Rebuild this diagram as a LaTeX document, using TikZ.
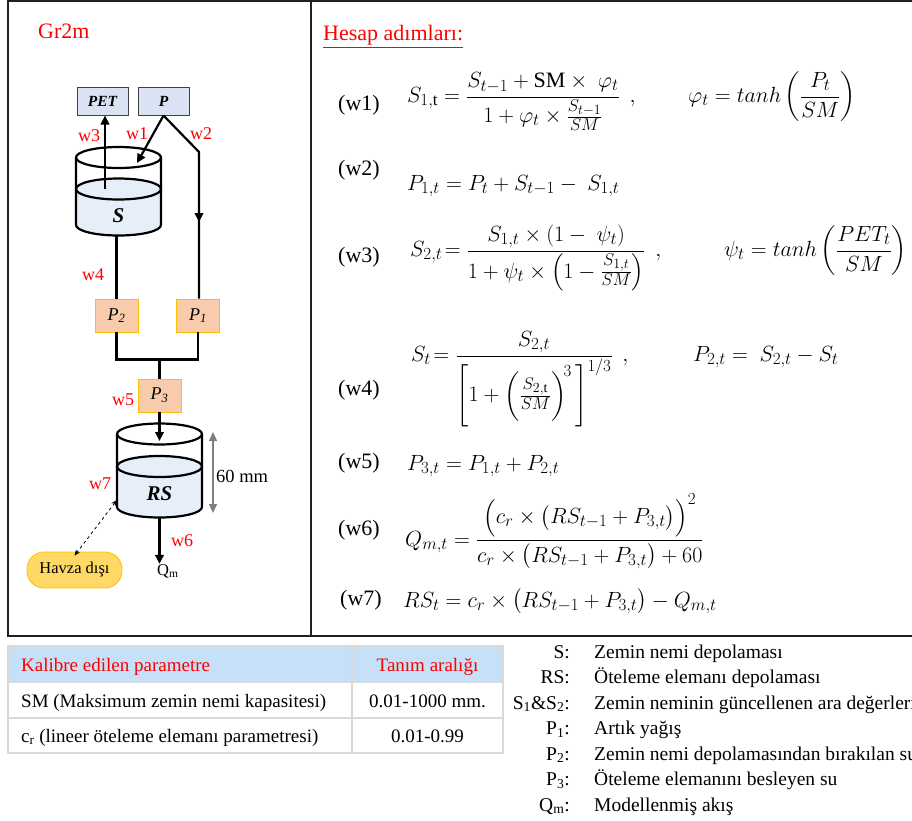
\documentclass[tikz,border=0pt]{standalone}
\usepackage{fix-cm}
\usepackage{amsmath}
\usepackage{fontspec}
\setmainfont{Liberation Serif}
\usetikzlibrary{arrows.meta}
\DeclareMathSizes{22}{22}{17}{14}
\definecolor{boxblue}{HTML}{DAE3F3}
\definecolor{boxborder}{HTML}{404040}
\definecolor{water}{HTML}{E6EEF9}
\definecolor{peach}{HTML}{F8CBAD}
\definecolor{gold}{HTML}{FFC000}
\definecolor{havzafill}{HTML}{FFD966}
\definecolor{headfill}{HTML}{C5E0F7}
\definecolor{gridgray}{HTML}{D9D9D9}
\definecolor{dimgray}{HTML}{7F7F7F}
\definecolor{framec}{HTML}{202020}
\newcommand{\fs}[1]{\fontsize{#1}{#1}\selectfont}
\tikzset{
  frameline/.style={draw=framec, line width=2pt},
  inbox/.style={draw=boxborder, fill=boxblue, line width=1pt, minimum width=51pt, minimum height=28pt, inner sep=0pt, font=\fs{15.5}\bfseries\itshape},
  pbox/.style={draw=gold, fill=peach, line width=0.8pt, minimum width=43pt, minimum height=33pt, inner sep=0pt, font=\fs{18}\itshape},
  wlab/.style={text=red, font=\fs{18}, inner sep=0pt, anchor=base west},
  conn/.style={line width=2.2pt},
  arr/.style={conn, -{Triangle[length=9pt,width=8.5pt]}},
  cyl/.style={line width=2.2pt},
  storelab/.style={font=\fs{21}\bfseries\itshape, inner sep=0pt},
  eqlab/.style={font=\fs{22}, anchor=west, inner sep=0pt},
  eqn/.style={font=\fs{22}, anchor=base west, inner sep=0pt},
  tabtxt/.style={font=\fs{19}, inner sep=0pt},
  legkey/.style={font=\fs{19.5}, inner sep=0pt, anchor=base east},
  legval/.style={font=\fs{19.5}, inner sep=0pt, anchor=base west},
}
\begin{document}
\begin{tikzpicture}[x=1pt,y=-1pt]
\useasboundingbox (0,0) rectangle (912,820);
% frame
\draw[frameline] (8,1) -- (912,1);
\draw[frameline] (8,0) -- (8,636);
\draw[frameline] (7,636) -- (912,636);
\draw[frameline] (311,0) -- (311,636);

% ---------- left panel ----------
\node[anchor=base west, text=red, font=\fs{22}, inner sep=0pt] (title) at (38,38) {Gr2m};
\node[inbox] (pet) at (102.5,101) {PET};
\node[inbox] (p) at (163.5,101) {P};

% S store
\fill[water] (76,189) -- (76,225) arc[start angle=180,end angle=360,x radius=42.5pt,y radius=10.5pt] -- (161,189) arc[start angle=0,end angle=180,x radius=42.5pt,y radius=10.5pt] -- cycle;
\draw[cyl] (118.5,157.5) ellipse [x radius=42.5pt, y radius=10.5pt];
\draw[cyl] (118.5,189) ellipse [x radius=42.5pt, y radius=10.5pt];
\draw[cyl] (76,157.5) -- (76,225) arc[start angle=180,end angle=360,x radius=42.5pt,y radius=10.5pt] -- (161,157.5);
\node[storelab] (slab) at (118.5,216) {S};
\coordinate (swat) at (105,189);
\coordinate (stop) at (137,163);
\coordinate (sbot) at (116.5,235.5);
\coordinate (bend) at (199,152);
\coordinate (w2tip) at (199,222);

% flux boxes
\node[pbox] (p2) at (116.5,315.5) {P\textsubscript{2}};
\node[pbox] (p1) at (198,315.5) {P\textsubscript{1}};
\node[pbox] (p3) at (159.5,395.5) {P\textsubscript{3}};

% connectors top
\draw[arr] (swat) -- (swat |- pet.south);
\draw[arr] (p.south) -- (stop);
\draw[conn] (p.south) -- (bend) -- (bend |- p1.north);
\draw[arr] (bend) -- (w2tip);
\draw[conn] (sbot) -- (p2.north);
\draw[conn] (p2.south) -- ++(0,27) coordinate (jl) -| (p1.south);
\draw[conn] (p3.north) -- (p3.north |- jl);

% RS store
\fill[water] (117,466.5) -- (117,507) arc[start angle=180,end angle=360,x radius=42.5pt,y radius=10.5pt] -- (202,466.5) arc[start angle=0,end angle=180,x radius=42.5pt,y radius=10.5pt] -- cycle;
\draw[cyl] (159.5,434) ellipse [x radius=42.5pt, y radius=10.5pt];
\draw[cyl] (159.5,466.5) ellipse [x radius=42.5pt, y radius=10.5pt];
\draw[cyl] (117,434) -- (117,507) arc[start angle=180,end angle=360,x radius=42.5pt,y radius=10.5pt] -- (202,434);
\node[storelab] (rslab) at (159.5,494) {RS};
\coordinate (rstop) at (159.5,441);
\coordinate (rsbot) at (159.5,517.5);
\coordinate (rsleft) at (117,500);
\draw[arr] (p3.south) -- (rstop);

% 60 mm dimension
\coordinate (dimtop) at (213,432);
\coordinate (dimbot) at (213,513);
\draw[dimgray, line width=1.5pt, {Triangle[length=9pt,width=8pt]}-{Triangle[length=9pt,width=8pt]}] (dimtop) -- (dimbot);
\node[anchor=base west, font=\fs{18.5}, inner sep=0pt] (mm) at (216,482) {60 mm};

% outputs
\node[anchor=base west, font=\fs{16.5}, inner sep=0pt] (qm) at (157,575) {Q\textsubscript{m}};
\draw[arr] (rsbot) -- (rsbot |- qm.north);
\node[draw=gold, fill=havzafill, line width=0.8pt, rounded corners=17pt, minimum width=95pt, minimum height=36pt, inner sep=0pt, font=\fs{16.5}] (havza) at (74.5,570) {Havza dışı};
\draw[dashed, line width=0.8pt, {Stealth[length=6pt,width=5pt]}-{Stealth[length=6pt,width=5pt]}] (rsleft) -- ([yshift=-4pt]havza.north);

% w labels
\node[wlab] (lw3) at (78,141) {w3};
\node[wlab] (lw1) at (126,139) {w1};
\node[wlab] (lw2) at (190,139) {w2};
\node[wlab] (lw4) at (82,280) {w4};
\node[wlab] (lw5) at (112,405) {w5};
\node[wlab] (lw7) at (89,489) {w7};
\node[wlab] (lw6) at (171,546) {w6};

% ---------- right panel ----------
\node[anchor=base west, text=red, font=\fs{22}, inner sep=0pt] (hesap) at (323,40) {\underline{Hesap adımları:}};

\node[eqlab] (l1) at (338,105) {(w1)};
\node[eqn] (e1a) at (407,102.5) {$\displaystyle S_{1,\mathrm{t}} = \frac{S_{t-1} + \mathrm{SM}\times\ \varphi_t}{1+\varphi_t\times\frac{S_{t-1}}{SM}}\;\,,$};
\node[eqn] (e1b) at (688,102.5) {$\displaystyle \varphi_t = tanh\left(\frac{P_t}{SM}\right)$};

\node[eqlab] (l2) at (338,170) {(w2)};
\node[eqn] (e2) at (407,190) {$P_{1,t} = P_t + S_{t-1} -\ S_{1,t}$};

\node[eqlab] (l3) at (338,257) {(w3)};
\node[eqn] (e3a) at (410,256.5) {$\displaystyle S_{2,t}\!=\frac{S_{1,t}\times(1-\ \psi_t)}{1+\psi_t\times\left(1-\frac{S_{1,t}}{SM}\right)}\;\,,$};
\node[eqn] (e3b) at (724,256.5) {$\displaystyle \psi_t = tanh\left(\frac{PET_t}{SM}\right)$};

\node[eqlab] (l4) at (338,390) {(w4)};
\node[eqn] (e4a) at (411,361.5) {$\displaystyle S_t\!=\frac{S_{2,t}}{\left[1+\biggl(\frac{S_{2,\mathrm{t}}}{SM}\biggr)^{\!3}\,\right]^{1/3}}\;\,,$};
\node[eqn] (e4b) at (693,361.5) {$P_{2,t} =\ S_{2,t} - S_t$};

\node[eqlab] (l5) at (338,463) {(w5)};
\node[eqn] (e5) at (407,470) {$P_{3,t} = P_{1,t} + P_{2,t}$};

\node[eqlab] (l6) at (338,530) {(w6)};
\node[eqn] (e6) at (405,546) {$\displaystyle Q_{m,t} = \frac{\Bigl(c_r\times\bigl(RS_{t-1}+P_{3,t}\bigr)\Bigr)^2}{c_r\times\bigl(RS_{t-1}+P_{3,t}\bigr)+60}$};

\node[eqlab] (l7) at (340,600) {(w7)};
\node[eqn] (e7) at (403,607) {$RS_t = c_r\times\bigl(RS_{t-1}+P_{3,t}\bigr) - Q_{m,t}$};

% ---------- table ----------
\fill[headfill] (8,646) rectangle (503,682);
\draw[gridgray, line width=1.5pt] (8,646) rectangle (503,753);
\draw[gridgray, line width=1.5pt] (8,682) -- (503,682);
\draw[gridgray, line width=1.5pt] (8,718) -- (503,718);
\draw[gridgray, line width=1.5pt] (352,646) -- (352,753);
\node[tabtxt, anchor=base west, text=red] (th1) at (21,671) {Kalibre edilen parametre};
\node[tabtxt, anchor=base, text=red] (th2) at (427.5,671) {Tanım aralığı};
\node[tabtxt, anchor=base west] (tr1) at (21,707) {SM (Maksimum zemin nemi kapasitesi)};
\node[tabtxt, anchor=base] (tv1) at (427.5,707) {0.01-1000 mm.};
\node[tabtxt, anchor=base west] (tr2) at (21,742) {c\textsubscript{r} (lineer öteleme elemanı parametresi)};
\node[tabtxt, anchor=base] (tv2) at (427.5,742) {0.01-0.99};

% ---------- legend ----------
\node[legkey] (k1) at (570,658) {S:};
\node[legval] (v1) at (594,658) {Zemin nemi depolaması};
\node[legkey] (k2) at (570,683.5) {RS:};
\node[legval] (v2) at (594,683.5) {Öteleme elemanı depolaması};
\node[legkey] (k3) at (570,709) {S\textsubscript{1}\&S\textsubscript{2}:};
\node[legval] (v3) at (594,709) {Zemin neminin güncellenen ara değerleri};
\node[legkey] (k4) at (570,734.5) {P\textsubscript{1}:};
\node[legval] (v4) at (594,734.5) {Artık yağış};
\node[legkey] (k5) at (570,760) {P\textsubscript{2}:};
\node[legval] (v5) at (594,760) {Zemin nemi depolamasından bırakılan su};
\node[legkey] (k6) at (570,785.5) {P\textsubscript{3}:};
\node[legval] (v6) at (594,785.5) {Öteleme elemanını besleyen su};
\node[legkey] (k7) at (570,811) {Q\textsubscript{m}:};
\node[legval] (v7) at (594,811) {Modellenmiş akış};
\end{tikzpicture}
\end{document}
